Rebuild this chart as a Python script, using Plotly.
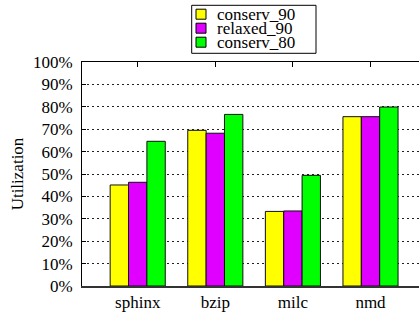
import plotly.graph_objects as go

categories = ["sphinx", "bzip", "milc", "nmd"]
series_names = ["conserv_90", "relaxed_90", "conserv_80"]
conserv_90 = [45.1, 69.5, 33.3, 75.6]
relaxed_90 = [46.3, 68.2, 33.5, 75.6]
conserv_80 = [64.6, 76.6, 49.4, 79.9]
colors = ["#FFFF00", "#E000FF", "#00FF00"]
y_ticks = [0, 10, 20, 30, 40, 50, 60, 70, 80, 90, 100]
y_tick_labels = ["0%", "10%", "20%", "30%", "40%", "50%", "60%", "70%", "80%", "90%", "100%"]

W, H = 419, 312
L, R, T, B = 82, 0, 62, 26
FAM = "Liberation Serif"
F17 = dict(family=FAM, size=17, color="black")

def px_x(p):
    return (p - L) / (W - L - R)

def px_y(p):
    return (H - B - p) / (H - T - B)

fig = go.Figure()
for name, vals, col in zip(series_names, [conserv_90, relaxed_90, conserv_80], colors):
    fig.add_trace(go.Bar(x=categories, y=vals, name=name, marker_color=col,
                         marker_line_color="#111", marker_line_width=1,
                         showlegend=False))

fig.add_trace(go.Scatter(x=categories, y=[None]*4, xaxis="x2", showlegend=False,
                         hoverinfo="skip"))

fig.update_layout(
    width=W, height=H,
    margin=dict(l=L, r=R, t=T, b=B, pad=0),
    paper_bgcolor="white", plot_bgcolor="white",
    barmode="group", bargap=0.29, bargroupgap=0,
    font=F17,
    xaxis=dict(range=[-0.718, 3.625], showline=True, linecolor="#333", linewidth=2,
               ticks="", showgrid=False, tickfont=F17, ticklabelstandoff=0),
    xaxis2=dict(range=[-0.718, 3.625], overlaying="x", side="top", matches="x",
                showline=True, linecolor="black", linewidth=1, ticks="inside",
                ticklen=5, tickcolor="black", showticklabels=False, showgrid=False),
    yaxis=dict(range=[0, 100], tickmode="array", tickvals=y_ticks, ticktext=y_tick_labels,
               ticks="inside", ticklen=4, tickcolor="black", showline=True,
               linecolor="black", linewidth=1, showgrid=True, gridcolor="#222",
               griddash="2px,3px", gridwidth=1, zeroline=False, tickfont=F17,
               ticklabelstandoff=5,
               title=dict(text="Utilization", font=F17, standoff=4)),
)

box_x0, box_x1, box_y0, box_y1 = 191.7, 316, 5.3, 53.3
fig.add_shape(type="rect", xref="paper", yref="paper",
              x0=px_x(box_x0), x1=px_x(box_x1), y0=px_y(box_y1), y1=px_y(box_y0),
              line=dict(color="black", width=1), fillcolor="white", layer="above")
for i, (name, col) in enumerate(zip(series_names, colors)):
    cy = 14.2 + 14 * i
    fig.add_shape(type="rect", xref="paper", yref="paper",
                  x0=px_x(196), x1=px_x(206), y0=px_y(cy + 5), y1=px_y(cy - 5),
                  line=dict(color="black", width=1), fillcolor=col, layer="above")
    fig.add_annotation(x=px_x(215), y=px_y(cy), xref="paper", yref="paper",
                       text=name, showarrow=False, xanchor="left", yanchor="middle",
                       font=F17)

fig.write_html("out.html", config={"displayModeBar": False},
               post_script="document.body.style.margin='0';")
